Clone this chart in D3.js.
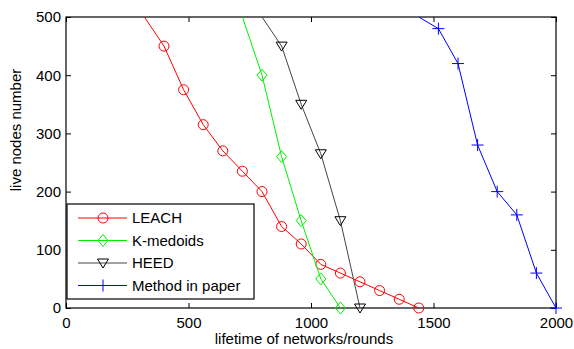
<!DOCTYPE html>
<html>
<head>
<meta charset="utf-8">
<script src="https://cdn.jsdelivr.net/npm/d3@7"></script>
<style>
  body { margin: 0; background: #fff; }
  svg { font-family: "Liberation Sans", Arial, sans-serif; }
  .axis text { font-size: 15px; fill: #000; }
  .axis line, .axis path { stroke: #000; }
</style>
</head>
<body>
<svg id="viz-svg" width="574" height="349"></svg>
<script>
// rounds at which each curve was sampled, and live nodes at that round
var leachX = [320, 400, 480, 560, 640, 720, 800, 880, 960, 1040, 1120, 1200, 1280, 1360, 1440]
  , leachY = [500, 450, 375, 315, 270, 235, 200, 140, 110, 75, 60, 45, 30, 15, 0]
  , kmedX = [720, 800, 880, 960, 1040, 1120]
  , kmedY = [500, 400, 260, 150, 50, 0]
  , heedX = [800, 880, 960, 1040, 1120, 1200]
  , heedY = [500, 450, 350, 265, 150, 0]
  , paperX = [1440, 1520, 1600, 1680, 1760, 1840, 1920, 2000]
  , paperY = [500, 480, 420, 280, 200, 160, 60, 0]
  , xTicks = [0, 500, 1000, 1500, 2000]
  , yTicks = [0, 100, 200, 300, 400, 500]
  , seriesNames = ["LEACH", "K-medoids", "HEED", "Method in paper"]

var series = [
  {name: seriesNames[0], xs: leachX, ys: leachY, color: "#ff0000", marker: "circle", line: "#ff0000"}
  , {name: seriesNames[1], xs: kmedX, ys: kmedY, color: "#00ee00", marker: "diamond", line: "#00ee00"}
  , {name: seriesNames[2], xs: heedX, ys: heedY, color: "#000000", marker: "triangle", line: "#444444"}
  , {name: seriesNames[3], xs: paperX, ys: paperY, color: "#0000ff", marker: "plus", line: "#0000ff"}
]

var svg = d3.select("#viz-svg")
  , pLeft = 66, pRight = 556, pTop = 17, pBottom = 308
  , tickLen = 5

var x = d3.scaleLinear().domain([0, 2000]).range([pLeft, pRight])
var y = d3.scaleLinear().domain([0, 500]).range([pBottom, pTop])

svg.append("defs").append("clipPath").attr("id", "plot-clip")
  .append("rect")
    .attr("x", pLeft).attr("y", pTop)
    .attr("width", pRight - pLeft).attr("height", pBottom - pTop)

// axes, ticks pointing inward like matlab
svg.append("g").attr("class", "axis")
  .attr("transform", "translate(0," + pBottom + ")")
  .call(d3.axisBottom(x).tickValues(xTicks).tickFormat(d3.format("d"))
    .tickSizeInner(-tickLen).tickSizeOuter(0).tickPadding(9))
svg.append("g").attr("class", "axis")
  .attr("transform", "translate(0," + pTop + ")")
  .call(d3.axisTop(x).tickValues(xTicks).tickSizeInner(-tickLen).tickSizeOuter(0).tickFormat(""))
svg.append("g").attr("class", "axis")
  .attr("transform", "translate(" + pLeft + ",0)")
  .call(d3.axisLeft(y).tickValues(yTicks).tickFormat(d3.format("d"))
    .tickSizeInner(-tickLen).tickSizeOuter(0).tickPadding(5))
svg.append("g").attr("class", "axis")
  .attr("transform", "translate(" + pRight + ",0)")
  .call(d3.axisRight(y).tickValues(yTicks).tickSizeInner(-tickLen).tickSizeOuter(0).tickFormat(""))

svg.selectAll(".axis .domain").remove()
svg.append("rect")
  .attr("x", pLeft).attr("y", pTop)
  .attr("width", pRight - pLeft).attr("height", pBottom - pTop)
  .attr("fill", "none").attr("stroke", "#000").attr("stroke-width", 1.2)

// axis labels
svg.append("text")
  .attr("x", 304).attr("y", 344)
  .attr("text-anchor", "middle")
  .style("font-size", "15px")
  .text("lifetime of networks/rounds")
svg.append("text")
  .attr("transform", "translate(21,130) rotate(-90)")
  .attr("text-anchor", "middle")
  .style("font-size", "15px")
  .text("live nodes number")

function drawMarker(g, type, color) {
  if (type == "circle") {
    g.append("circle").attr("r", 5).attr("fill", "none").attr("stroke", color)
  } else if (type == "diamond") {
    g.append("path").attr("d", "M0,-6L5,0L0,6L-5,0Z").attr("fill", "none").attr("stroke", color)
  } else if (type == "triangle") {
    g.append("path").attr("d", "M-5.5,-4L5.5,-4L0,5Z").attr("fill", "none").attr("stroke", color)
  } else {
    g.append("path").attr("d", "M-6,0H6M0,-6V6").attr("fill", "none").attr("stroke", color)
  }
}

var line = d3.line()
  .x(function(d) { return x(d[0]) })
  .y(function(d) { return y(d[1]) })

series.forEach(function(s) {
  var pts = s.xs.map(function(v, i) { return [v, s.ys[i]] })
  svg.append("path")
    .datum(pts)
    .attr("clip-path", "url(#plot-clip)")
    .attr("d", line)
    .attr("fill", "none")
    .attr("stroke", s.line)
    .attr("stroke-width", 1)
  // first sample sits on the top edge, no marker drawn there in the original
  pts.filter(function(d) { return d[1] < 500 }).forEach(function(d) {
    var g = svg.append("g").attr("transform", "translate(" + x(d[0]) + "," + y(d[1]) + ")")
    drawMarker(g, s.marker, s.color)
  })
})

// legend
var legend = svg.append("g").attr("id", "legend")
legend.append("rect")
  .attr("x", 67).attr("y", 204)
  .attr("width", 187).attr("height", 95)
  .attr("fill", "#fff").attr("stroke", "#000").attr("stroke-width", 1.2)

series.forEach(function(s, i) {
  var ly = 218 + i * 22.5
  legend.append("line")
    .attr("x1", 78).attr("x2", 127)
    .attr("y1", ly).attr("y2", ly)
    .attr("stroke", s.line).attr("stroke-width", 1)
  drawMarker(legend.append("g").attr("transform", "translate(103," + ly + ")"), s.marker, s.color)
  legend.append("text")
    .attr("x", 132).attr("y", ly)
    .attr("dy", "0.35em")
    .style("font-size", "15px")
    .text(s.name)
})
</script>
</body>
</html>
